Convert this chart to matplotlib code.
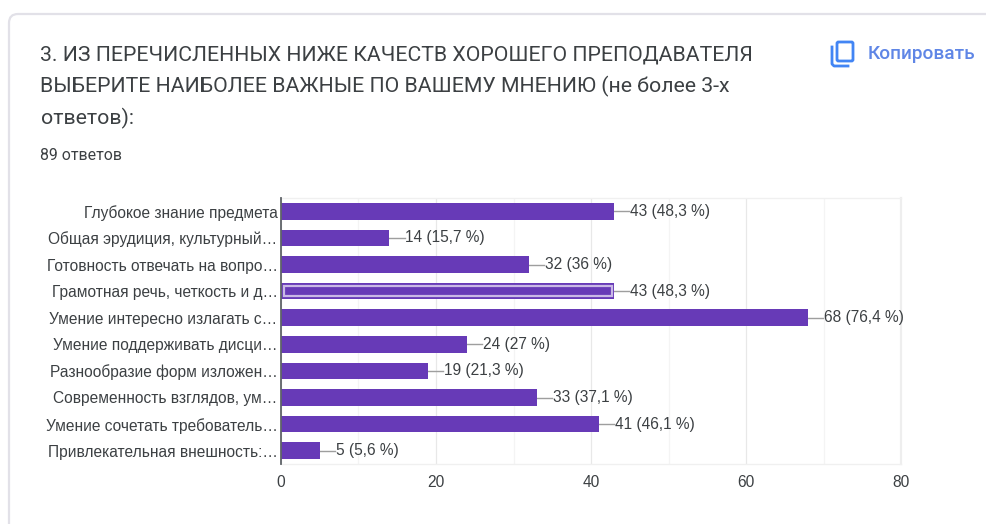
import matplotlib
matplotlib.use('Agg')
import matplotlib.pyplot as plt
from matplotlib.patches import FancyBboxPatch, Rectangle
from matplotlib.lines import Line2D

# -----------------
# Data
# -----------------

categories = [
    'Глубокое знание предмета',
    'Общая эрудиция, культурный…',
    'Готовность отвечать на вопро…',
    'Грамотная речь, четкость и д…',
    'Умение интересно излагать с…',
    'Умение поддерживать дисци…',
    'Разнообразие форм изложен…',
    'Современность взглядов, ум…',
    'Умение сочетать требователь…',
    'Привлекательная внешность:…',
]
counts = [43, 14, 32, 43, 68, 24, 19, 33, 41, 5]
percents = ['48,3', '15,7', '36', '48,3', '76,4', '27', '21,3', '37,1', '46,1', '5,6']
x_ticks = [0, 20, 40, 60, 80]
highlighted = 3

title_lines = [
    '3. ИЗ ПЕРЕЧИСЛЕННЫХ НИЖЕ КАЧЕСТВ ХОРОШЕГО ПРЕПОДАВАТЕЛЯ',
    'ВЫБЕРИТЕ НАИБОЛЕЕ ВАЖНЫЕ ПО ВАШЕМУ МНЕНИЮ (не более 3-х',
    'ответов):',
]
subtitle = '89 ответов'
copy_label = 'Копировать'

W, H = 987, 524
PURPLE = '#673ab7'
TEXT = '#3c4043'

# -----------------
# Figure and card
# -----------------

fig = plt.figure(figsize=(W / 100, H / 100), dpi=100, facecolor='white')

# Pixel overlay for the page card, header and icon
page = fig.add_axes([0, 0, 1, 1])
page.set_xlim(0, W)
page.set_ylim(H, 0)
page.axis('off')

page.add_patch(FancyBboxPatch((9, 14), 1100, 700, boxstyle='round,pad=0,rounding_size=9',
                              facecolor='white', edgecolor='#e2e1e8', linewidth=1.6))

for line, y in zip(title_lines, [55, 86, 118]):
    page.text(40.5, y, line, fontsize=15.35, family='Roboto', color=TEXT, va='center')
page.text(40.5, 155, subtitle, fontsize=11.4, family='Roboto', color=TEXT, va='center')

# Copy icon
BLUE = '#4285f4'
page.add_patch(FancyBboxPatch((837, 42), 16, 19, boxstyle='round,pad=0,rounding_size=1.5',
                              facecolor='none', edgecolor=BLUE, linewidth=2))
page.add_line(Line2D([832, 832, 834, 848], [47, 64, 66, 66], color=BLUE, linewidth=2))
page.text(868, 54, copy_label, fontsize=13.7, family='Roboto', color='#5f86e6',
          va='center', fontweight='medium')

# -----------------
# Chart
# -----------------

ax = fig.add_axes([281 / W, 1 - 464 / H, (901 - 281) / W, (464 - 198) / H])
ax.patch.set_alpha(0)
positions = list(range(len(categories)))

ax.barh(positions, counts, height=0.62, color=PURPLE, zorder=3)

# Selected bar gets an inner light outline
ax.add_patch(Rectangle((0.35, highlighted - 0.2), counts[highlighted] - 0.7, 0.4,
                       facecolor='none', edgecolor='#c9b8e6', linewidth=1.6, zorder=4))

for pos, count, pct in zip(positions, counts, percents):
    ax.plot([count, count + 1.95], [pos, pos], color='#9e9e9e', linewidth=1, zorder=2)
    ax.text(count + 2.05, pos, f'{count} ({pct} %)', fontsize=11.2, family='Liberation Sans',
            color=TEXT, va='center', ha='left', zorder=5)

ax.set_xlim(0, 80)
ax.set_ylim(len(categories) - 0.5, -0.5)
ax.set_xticks(x_ticks)
ax.set_xticks([10, 30, 50, 70], minor=True)
ax.set_yticks(positions)
ax.set_yticklabels(categories, fontsize=11.2, family='Liberation Sans', color=TEXT)
ax.tick_params(axis='y', length=0, pad=2.5)
ax.tick_params(axis='x', which='both', length=0, pad=8)
for label in ax.get_xticklabels():
    label.set_fontsize(11.2)
    label.set_family('Liberation Sans')
    label.set_color(TEXT)

ax.grid(axis='x', which='major', color='#e8e8e8', linewidth=0.9, zorder=0)
ax.grid(axis='x', which='minor', color='#f4f4f4', linewidth=0.9, zorder=0)
ax.set_axisbelow(True)

for side in ['top', 'bottom']:
    ax.spines[side].set_color('#f0f0f0')
    ax.spines[side].set_linewidth(1)
ax.spines['right'].set_color('#eeeeee')
ax.spines['right'].set_linewidth(1.6)
ax.spines['left'].set_color('#5f6368')
ax.spines['left'].set_linewidth(1.3)
ax.spines['left'].set_zorder(6)

fig.savefig('out.png', dpi=100)
